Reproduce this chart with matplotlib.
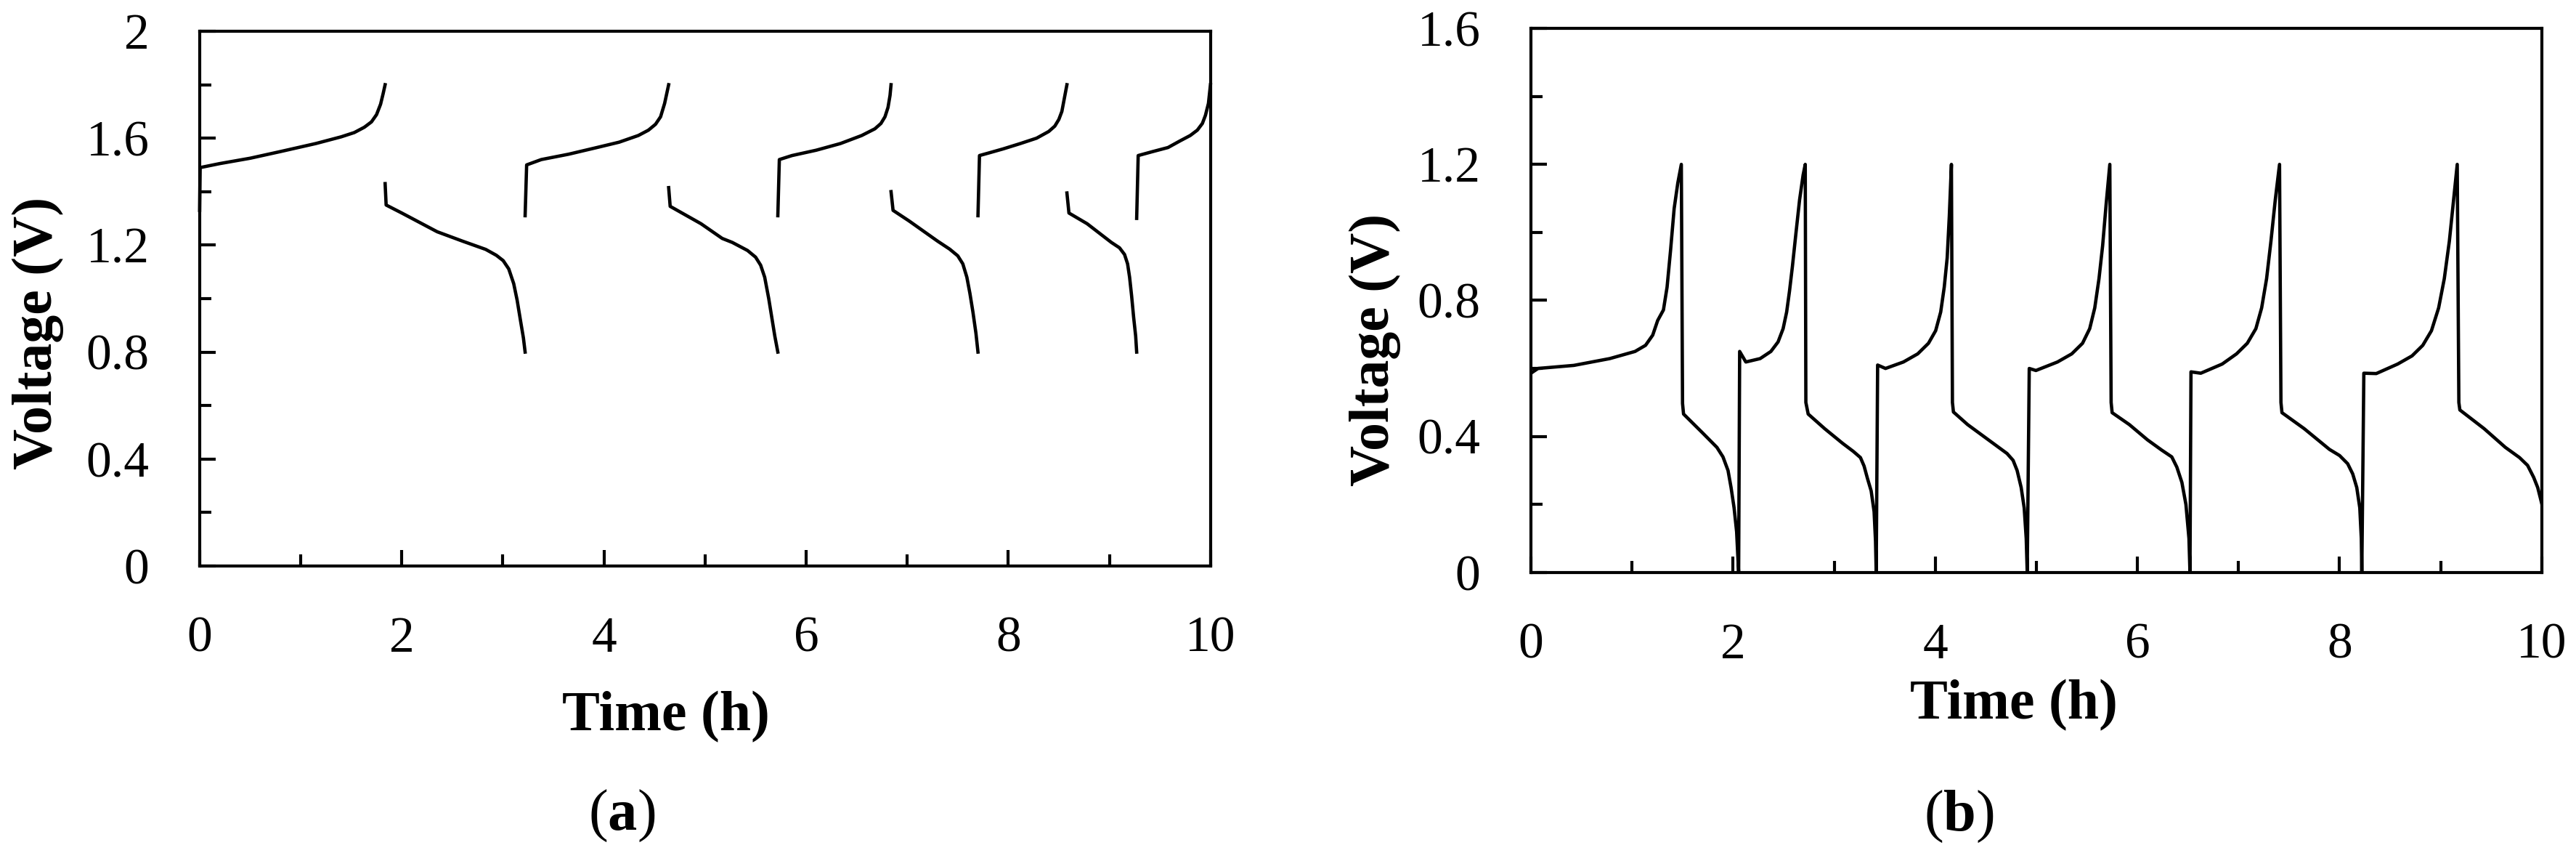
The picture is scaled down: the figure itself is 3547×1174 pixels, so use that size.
"""
Charge/discharge voltage profiles, two panels:
(a) cell cycled between 0.8 V and 1.8 V, (b) cell cycled between 0 V and 1.2 V.
Writes out.png.
"""

import matplotlib
matplotlib.use("Agg")
import matplotlib.pyplot as plt
from matplotlib.ticker import MultipleLocator, FuncFormatter


# ════════════════════════════════════════════════════════
# Data
# ════════════════════════════════════════════════════════

# Panel (a): separate charge and discharge traces, time in h, voltage in V
a_charge_t = [
    [0.0, 0.005, 0.2, 0.5, 0.8, 1.15, 1.4, 1.53, 1.63, 1.70, 1.75, 1.79, 1.815, 1.835],
    [3.22, 3.235, 3.38, 3.65, 3.93, 4.15, 4.34, 4.44, 4.51, 4.56, 4.60, 4.62, 4.64],
    [5.72, 5.735, 5.86, 6.1, 6.34, 6.55, 6.68, 6.74, 6.78, 6.81, 6.83, 6.84],
    [7.70, 7.715, 7.81, 7.95, 8.12, 8.28, 8.40, 8.46, 8.50, 8.53, 8.56, 8.58],
    [9.27, 9.285, 9.43, 9.58, 9.70, 9.80, 9.87, 9.92, 9.95, 9.98, 10.0],
]
a_charge_v = [
    [1.33, 1.49, 1.505, 1.525, 1.55, 1.58, 1.605, 1.621, 1.641, 1.661, 1.688, 1.727, 1.766, 1.80],
    [1.31, 1.50, 1.52, 1.54, 1.565, 1.585, 1.61, 1.63, 1.652, 1.68, 1.73, 1.765, 1.80],
    [1.31, 1.52, 1.535, 1.555, 1.58, 1.61, 1.635, 1.655, 1.68, 1.715, 1.76, 1.80],
    [1.31, 1.535, 1.545, 1.56, 1.58, 1.60, 1.625, 1.645, 1.67, 1.70, 1.76, 1.80],
    [1.30, 1.535, 1.55, 1.565, 1.59, 1.61, 1.63, 1.655, 1.685, 1.73, 1.80],
]
a_discharge_t = [
    [1.835, 1.845, 2.0, 2.35, 2.6, 2.83, 2.935, 3.003, 3.058, 3.107, 3.141, 3.175, 3.203, 3.22],
    [4.64, 4.655, 4.96, 5.17, 5.27, 5.42, 5.50, 5.55, 5.59, 5.63, 5.66, 5.69, 5.72],
    [6.84, 6.86, 7.02, 7.30, 7.42, 7.50, 7.55, 7.59, 7.62, 7.65, 7.68, 7.70],
    [8.58, 8.60, 8.78, 9.02, 9.10, 9.15, 9.18, 9.20, 9.22, 9.24, 9.26, 9.27],
]
a_discharge_v = [
    [1.43, 1.35, 1.32, 1.25, 1.215, 1.184, 1.162, 1.142, 1.111, 1.056, 0.994, 0.916, 0.853, 0.80],
    [1.415, 1.345, 1.28, 1.225, 1.21, 1.18, 1.155, 1.125, 1.08, 1.00, 0.93, 0.86, 0.80],
    [1.40, 1.33, 1.29, 1.215, 1.185, 1.16, 1.13, 1.08, 1.02, 0.95, 0.87, 0.80],
    [1.395, 1.32, 1.28, 1.21, 1.19, 1.165, 1.13, 1.08, 1.01, 0.93, 0.86, 0.80],
]

# Panel (b): one continuous trace over six cycles
b_t = [
    # cycle 1
    0.0, 0.07, 0.425, 0.78, 1.03, 1.134, 1.205, 1.254, 1.311, 1.347, 1.382, 1.417, 1.453, 1.488,
    1.50, 1.51, 1.70, 1.84, 1.90, 1.95, 1.98, 2.01, 2.035, 2.055,
    # cycle 2
    2.065, 2.126, 2.268, 2.374, 2.445, 2.495, 2.53, 2.558, 2.587, 2.622, 2.658, 2.693, 2.714,
    2.72, 2.743, 2.906, 3.083, 3.19, 3.26, 3.296, 3.33, 3.366, 3.395, 3.409, 3.416,
    # cycle 3
    3.43, 3.508, 3.685, 3.827, 3.933, 4.004, 4.054, 4.089, 4.118, 4.139, 4.16,
    4.17, 4.18, 4.32, 4.54, 4.71, 4.77, 4.81, 4.85, 4.88, 4.90, 4.91,
    # cycle 4
    4.93, 4.996, 5.209, 5.351, 5.457, 5.528, 5.578, 5.62, 5.656, 5.691, 5.727,
    5.74, 5.75, 5.92, 6.10, 6.24, 6.34, 6.39, 6.44, 6.48, 6.51, 6.52,
    # cycle 5
    6.53, 6.627, 6.839, 6.981, 7.087, 7.172, 7.229, 7.278, 7.321, 7.364, 7.406,
    7.42, 7.43, 7.65, 7.90, 8.0, 8.08, 8.13, 8.17, 8.20, 8.215, 8.22,
    # cycle 6
    8.24, 8.363, 8.575, 8.717, 8.823, 8.909, 8.98, 9.036, 9.086, 9.128, 9.164,
    9.18, 9.19, 9.43, 9.64, 9.78, 9.86, 9.92, 9.96, 10.0,
]
b_v = [
    # cycle 1
    0.586, 0.60, 0.609, 0.629, 0.65, 0.668, 0.698, 0.741, 0.772, 0.839, 0.949, 1.07, 1.145, 1.20,
    0.497, 0.466, 0.41, 0.368, 0.34, 0.30, 0.25, 0.19, 0.12, 0.0,
    # cycle 2
    0.65, 0.619, 0.629, 0.650, 0.678, 0.717, 0.766, 0.827, 0.90, 0.998, 1.096, 1.169, 1.20,
    0.50, 0.466, 0.423, 0.38, 0.356, 0.338, 0.313, 0.276, 0.24, 0.179, 0.093, 0.0,
    # cycle 3
    0.61, 0.60, 0.619, 0.643, 0.674, 0.711, 0.766, 0.839, 0.925, 1.047, 1.20,
    0.50, 0.472, 0.435, 0.387, 0.35, 0.33, 0.30, 0.25, 0.19, 0.10, 0.0,
    # cycle 4
    0.60, 0.594, 0.619, 0.643, 0.674, 0.717, 0.778, 0.864, 0.961, 1.084, 1.20,
    0.50, 0.47, 0.435, 0.39, 0.36, 0.34, 0.31, 0.265, 0.20, 0.10, 0.0,
    # cycle 5
    0.59, 0.586, 0.613, 0.643, 0.674, 0.717, 0.778, 0.864, 0.974, 1.096, 1.20,
    0.50, 0.47, 0.423, 0.362, 0.344, 0.32, 0.29, 0.25, 0.19, 0.10, 0.0,
    # cycle 6
    0.586, 0.585, 0.613, 0.637, 0.668, 0.711, 0.778, 0.864, 0.974, 1.096, 1.20,
    0.50, 0.478, 0.423, 0.368, 0.338, 0.315, 0.28, 0.25, 0.203,
]

x_ticks = [0, 2, 4, 6, 8, 10]


# ════════════════════════════════════════════════════════
# Styling
# ════════════════════════════════════════════════════════

plt.rcParams["font.family"] = ["Liberation Serif", "DejaVu Serif"]
plt.rcParams["mathtext.fontset"] = "custom"
plt.rcParams["mathtext.bf"] = "Liberation Serif:bold"
plt.rcParams["mathtext.rm"] = "Liberation Serif"

LINE_W = 3.3
SPINE_W = 3.0
TICK_FS = 50
LABEL_FS = 56


def _style_axes(ax, ymax, ystep):
    """Box frame, inward ticks on left/bottom only."""
    ax.set_xlim(0, 10)
    ax.set_ylim(0, ymax)
    ax.set_xticks(x_ticks)
    ax.xaxis.set_minor_locator(MultipleLocator(1))
    ax.yaxis.set_major_locator(MultipleLocator(ystep))
    ax.yaxis.set_minor_locator(MultipleLocator(ystep / 2))
    ax.yaxis.set_major_formatter(FuncFormatter(lambda v, _: f"{v:g}"))
    for s in ax.spines.values():
        s.set_linewidth(SPINE_W)
    ax.tick_params(which="both", direction="in", top=False, right=False,
                   width=SPINE_W, labelsize=TICK_FS, pad=50)
    ax.tick_params(which="major", length=16)
    ax.tick_params(which="minor", length=11.5)


# ════════════════════════════════════════════════════════
# Figure
# ════════════════════════════════════════════════════════

fig = plt.figure(figsize=(35.47, 11.74), dpi=100)
ax_a = fig.add_axes([0.0775, 0.3365, 0.3924, 0.6269])
ax_b = fig.add_axes([0.5943, 0.3288, 0.3924, 0.6380])

# ── Panel (a) ─────────────────────────────────────────
for t, v in zip(a_charge_t, a_charge_v):
    ax_a.plot(t, v, color="black", linewidth=LINE_W, solid_joinstyle="round",
              clip_on=False)
for t, v in zip(a_discharge_t, a_discharge_v):
    ax_a.plot(t, v, color="black", linewidth=LINE_W, solid_joinstyle="round")
_style_axes(ax_a, 2.0, 0.4)

# ── Panel (b) ─────────────────────────────────────────
ax_b.plot(b_t, b_v, color="black", linewidth=LINE_W, solid_joinstyle="round")
_style_axes(ax_b, 1.6, 0.4)

# ── Axis labels ───────────────────────────────────────
for ax, ylab_xy, xlab_xy in [
    (ax_a, (-0.160, 0.436), (0.461, -0.308)),
    (ax_b, (-0.154, 0.409), (0.478, -0.269)),
]:
    ax.set_ylabel("Voltage (V)", fontsize=LABEL_FS, fontweight="bold",
                  va="center")
    ax.yaxis.set_label_coords(*ylab_xy)
    ax.set_xlabel("Time (h)", fontsize=LABEL_FS, fontweight="bold",
                  va="baseline")
    ax.xaxis.set_label_coords(*xlab_xy)

# ── Panel captions ────────────────────────────────────
fig.text(0.2413, 0.0273, r"($\mathbf{a}$)", fontsize=58, ha="center",
         va="baseline")
fig.text(0.7606, 0.0264, r"($\mathbf{b}$)", fontsize=58, ha="center",
         va="baseline")

fig.savefig("out.png", dpi=100)
plt.close(fig)
